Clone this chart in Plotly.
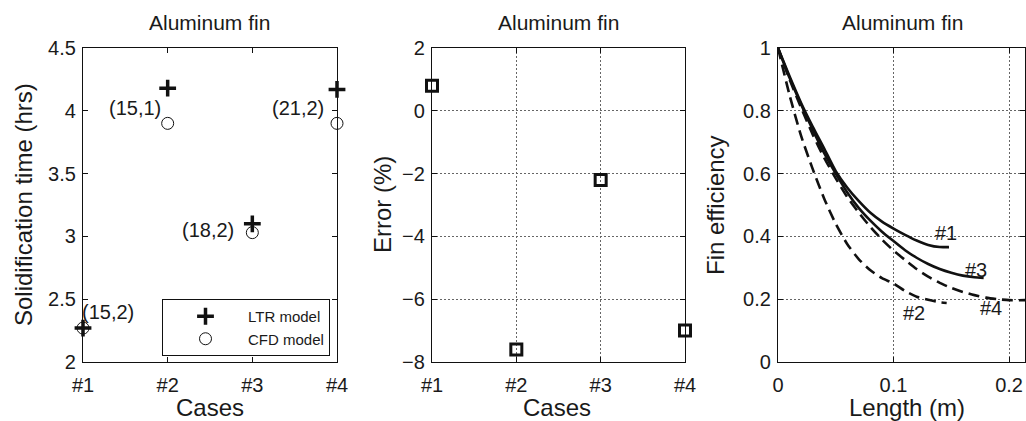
import plotly.graph_objects as go

# ---------------- data ----------------
cases = [1, 2, 3, 4]
case_labels = ["#1", "#2", "#3", "#4"]
ltr_time = [2.27, 4.18, 3.10, 4.17]
cfd_time = [2.27, 3.90, 3.03, 3.90]
case_tags = ["(15,2)", "(15,1)", "(18,2)", "(21,2)"]
tag_x = [1.30, 1.62, 2.48, 3.54]
tag_y = [2.40, 4.02, 3.05, 4.02]

error_pct = [0.8, -7.6, -2.2, -7.0]

len_1 = [0, 0.01, 0.02, 0.03, 0.04, 0.05, 0.06, 0.07, 0.08, 0.09, 0.10, 0.11, 0.12, 0.13, 0.14, 0.148]
eff_1 = [1.0, 0.91, 0.825, 0.75, 0.68, 0.608, 0.555, 0.512, 0.475, 0.447, 0.425, 0.405, 0.387, 0.373, 0.366, 0.366]

len_3 = [0, 0.01, 0.02, 0.03, 0.04, 0.05, 0.06, 0.07, 0.08, 0.09, 0.10, 0.11, 0.12, 0.13, 0.14, 0.15, 0.16, 0.17, 0.178]
eff_3 = [1.0, 0.905, 0.82, 0.74, 0.665, 0.6, 0.54, 0.49, 0.45, 0.415, 0.385, 0.356, 0.332, 0.312, 0.296, 0.284, 0.275, 0.27, 0.268]

len_4 = [0, 0.01, 0.02, 0.03, 0.04, 0.05, 0.06, 0.07, 0.08, 0.09, 0.10, 0.11, 0.12, 0.13, 0.14, 0.15, 0.16, 0.17, 0.18, 0.19, 0.20, 0.215]
eff_4 = [1.0, 0.9, 0.81, 0.725, 0.65, 0.585, 0.525, 0.475, 0.43, 0.39, 0.355, 0.325, 0.296, 0.272, 0.252, 0.236, 0.223, 0.213, 0.205, 0.2, 0.197, 0.197]

len_2 = [0, 0.01, 0.02, 0.03, 0.04, 0.05, 0.06, 0.07, 0.08, 0.09, 0.10, 0.11, 0.12, 0.13, 0.14, 0.146]
eff_2 = [1.0, 0.85, 0.72, 0.615, 0.52, 0.44, 0.375, 0.327, 0.292, 0.267, 0.25, 0.226, 0.208, 0.198, 0.19, 0.188]

curve_labels = ["#1", "#2", "#3", "#4"]
curve_label_x = [0.145, 0.118, 0.171, 0.184]
curve_label_y = [0.41, 0.156, 0.293, 0.172]

# ---------------- figure ----------------
W, H = 1026, 421
FONT = "Liberation Sans, Arial, Helvetica, sans-serif"
TXT = "#1a1a1a"
INK = "#111111"

def px_x(p):
    return p / W

def px_y(p):
    return 1 - p / H

fig = go.Figure()

# Left panel
fig.add_trace(go.Scatter(
    x=cases, y=ltr_time, mode="markers", name="LTR model",
    marker=dict(symbol="cross-thin", size=12, color=INK, line=dict(width=3.5, color=INK)),
    cliponaxis=False, xaxis="x", yaxis="y"))
fig.add_trace(go.Scatter(
    x=cases, y=cfd_time, mode="markers", name="CFD model",
    marker=dict(symbol="circle-open", size=12, color=INK, line=dict(width=1, color=INK)),
    cliponaxis=False, xaxis="x", yaxis="y"))

# Middle panel
fig.add_trace(go.Scatter(
    x=cases, y=error_pct, mode="markers", showlegend=False,
    marker=dict(symbol="square-open", size=11, color=INK, line=dict(width=3, color=INK)),
    cliponaxis=False, xaxis="x2", yaxis="y2"))

# Right panel
line_specs = [
    (len_1, eff_1, "solid"),
    (len_3, eff_3, "solid"),
    (len_4, eff_4, "11px,6px"),
    (len_2, eff_2, "11px,6px"),
]
for lx, ly, dash in line_specs:
    fig.add_trace(go.Scatter(
        x=lx, y=ly, mode="lines", showlegend=False,
        line=dict(color=INK, width=2.6, dash=dash, shape="spline", smoothing=0.6),
        xaxis="x3", yaxis="y3"))

ydom = [px_y(362), px_y(48)]
tickfont = dict(family=FONT, size=20, color=TXT)

common = dict(showline=True, linecolor=INK, linewidth=1.3, mirror="ticks",
              ticks="inside", ticklen=5, tickcolor=INK, zeroline=False,
              tickfont=tickfont)
xextra = dict(ticklabelstandoff=5)
yextra = dict(ticklabelstandoff=2)
grid = dict(showgrid=True, gridcolor="#666", gridwidth=1, griddash="2px,2px")

fig.update_layout(
    width=W, height=H, margin=dict(l=0, r=0, t=0, b=0, autoexpand=False),
    paper_bgcolor="white", plot_bgcolor="white",
    font=dict(family=FONT, color=TXT),
    xaxis=dict(domain=[px_x(83), px_x(337)], range=[1, 4], tickvals=cases,
               ticktext=case_labels, showgrid=False, anchor="y", **common, **xextra),
    yaxis=dict(domain=ydom, range=[2, 4.5], dtick=0.5, showgrid=False,
               anchor="x", **common, **yextra),
    xaxis2=dict(domain=[px_x(432), px_x(685)], range=[1, 4], tickvals=cases,
                ticktext=case_labels, anchor="y2", **common, **grid, **xextra),
    yaxis2=dict(domain=ydom, range=[-8, 2], dtick=2, anchor="x2", **common, **grid, **yextra),
    xaxis3=dict(domain=[px_x(778), px_x(1025)], range=[0, 0.2138], tickvals=[0, 0.1, 0.2],
                anchor="y3", **common, **grid, **xextra),
    yaxis3=dict(domain=ydom, range=[0, 1], dtick=0.2, anchor="x3", **common, **grid, **yextra),
    legend=dict(x=px_x(162), y=px_y(299), xanchor="left", yanchor="top",
                bordercolor=INK, borderwidth=1, bgcolor="white",
                font=dict(family=FONT, size=15, color=TXT), itemwidth=75,
                tracegroupgap=0),
    showlegend=True,
)

annotations = []
# titles
for cx in [209, 558, 902]:
    annotations.append(dict(text="Aluminum fin", x=px_x(cx), y=px_y(23), xref="paper", yref="paper",
                            xanchor="center", yanchor="middle",
                            showarrow=False, font=dict(size=21, family=FONT, color=TXT)))
# x-axis titles
for cx, t in [(210, "Cases"), (557, "Cases"), (907, "Length (m)")]:
    annotations.append(dict(text=t, x=px_x(cx), y=px_y(407), xref="paper", yref="paper",
                            xanchor="center", yanchor="middle",
                            showarrow=False, font=dict(size=24, family=FONT, color=TXT)))
# y-axis titles
for cx, t in [(23, "Solidification time (hrs)"), (382, "Error (%)"), (715, "Fin efficiency")]:
    annotations.append(dict(text=t, x=px_x(cx), y=px_y(205), xref="paper", yref="paper",
                            xanchor="center", yanchor="middle",
                            showarrow=False, textangle=-90,
                            font=dict(size=24, family=FONT, color=TXT)))
# case tags
for t, xx, yy in zip(case_tags, tag_x, tag_y):
    annotations.append(dict(text=t, x=xx, y=yy, xref="x", yref="y", showarrow=False,
                            xanchor="center", yanchor="middle",
                            font=dict(size=20, family=FONT, color=TXT)))
# curve labels
for t, xx, yy in zip(curve_labels, curve_label_x, curve_label_y):
    annotations.append(dict(text=t, x=xx, y=yy, xref="x3", yref="y3", showarrow=False,
                            xanchor="center", yanchor="middle",
                            font=dict(size=20, family=FONT, color=TXT)))

fig.update_layout(annotations=annotations)

fig.write_html("out.html")
